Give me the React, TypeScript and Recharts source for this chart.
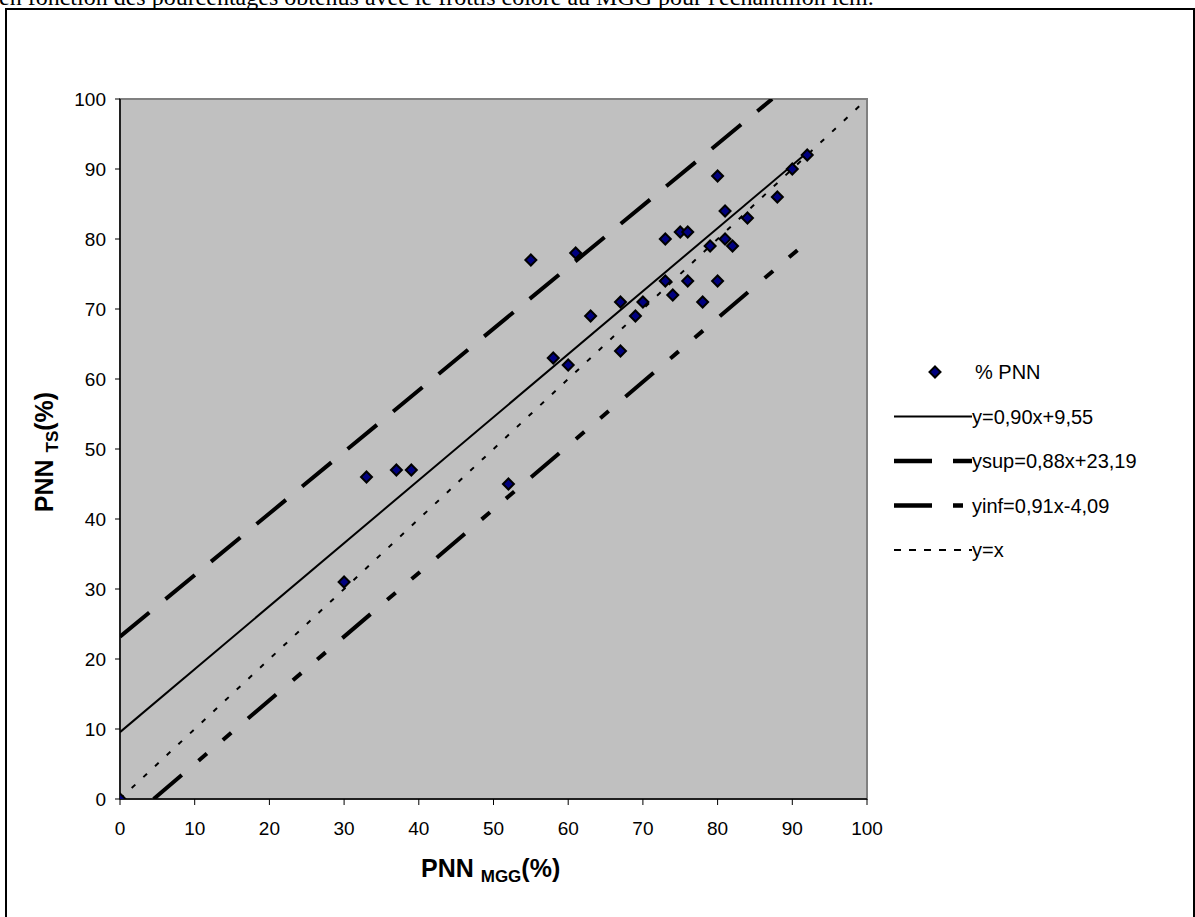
import {
  ComposedChart,
  Scatter,
  Line,
  XAxis,
  YAxis,
  ReferenceArea,
} from "recharts";

// measured points: PNN MGG (%) vs PNN TS (%)
const pnnMgg = [0, 30, 33, 37, 39, 52, 55, 58, 60, 61, 63, 67, 67, 69, 70, 73, 73, 74, 75, 76, 76, 78, 79, 80, 80, 81, 81, 82, 84, 88, 90, 92];
const pnnTs = [0, 31, 46, 47, 47, 45, 77, 63, 62, 78, 69, 71, 64, 69, 71, 80, 74, 72, 81, 81, 74, 71, 79, 89, 74, 84, 80, 79, 83, 86, 90, 92];

// line end points
const regLine = [
  { x: 0, y: 9.55 },
  { x: 92, y: 92.35 },
];
const supLine = [
  { x: 0, y: 23.19 },
  { x: 87.3, y: 100 },
];
const infLine = [
  { x: 4.5, y: 0 },
  { x: 92, y: 79.6 },
];
const idLine = [
  { x: 0, y: 0 },
  { x: 100, y: 100 },
];

const ticks = [0, 10, 20, 30, 40, 50, 60, 70, 80, 90, 100];

const FONT = '"Liberation Sans", Arial, sans-serif';

const points = pnnMgg.map((x, i) => ({ x, y: pnnTs[i] }));

const Diamond = (props: any) => {
  const { cx, cy } = props;
  if (cx == null || cy == null) return null;
  const r = 5.5;
  return (
    <polygon
      points={`${cx},${cy - r} ${cx + r},${cy} ${cx},${cy + r} ${cx - r},${cy}`}
      fill="#000080"
      stroke="#000"
      strokeWidth={2}
    />
  );
};

const legendRows = [
  { label: "% PNN", kind: "marker" },
  { label: "y=0,90x+9,55", kind: "line", width: 2, dash: undefined },
  { label: "ysup=0,88x+23,19", kind: "line", width: 4.5, dash: "38 21" },
  { label: "yinf=0,91x-4,09", kind: "line", width: 4.5, dash: "38 21 10 40" },
  { label: "y=x", kind: "line", width: 2, dash: "7 8" },
];

function LegendBox() {
  return (
    <svg width={300} height={230} style={{ fontFamily: FONT, display: "block" }}>
      {legendRows.map((r, i) => {
        const y = 18 + i * 44.5;
        return (
          <g key={r.label}>
            {r.kind === "marker" ? (
              <Diamond cx={45} cy={y} />
            ) : (
              <line x1={4} x2={82} y1={y} y2={y} stroke="#000" strokeWidth={r.width} strokeDasharray={r.dash} />
            )}
            <text x={r.kind === "marker" ? 85 : 82} y={y + 7} fontSize={20} fill="#000">
              {r.label}
            </text>
          </g>
        );
      })}
    </svg>
  );
}

export default function App() {
  return (
    <div style={{ position: "absolute", left: 0, top: 0, width: 1195, height: 917, overflow: "hidden", background: "#fff" }}>
      <div
        style={{
          position: "absolute",
          left: -1,
          top: -16,
          fontFamily: '"Liberation Serif", "Times New Roman", serif',
          fontSize: 24,
          whiteSpace: "nowrap",
        }}
      >
        en fonction des pourcentages obtenus avec le frottis coloré au MGG pour l'échantillon lcm.
      </div>
      <div
        style={{
          position: "absolute",
          left: 5,
          top: 8,
          width: 1186,
          height: 960,
          border: "2px solid #000",
        }}
      />
      <div style={{ position: "absolute", left: 0, top: 0 }}>
        <ComposedChart width={1195} height={917} margin={{ top: 99, right: 328, bottom: 88, left: 60 }}>
          <ReferenceArea x1={0} x2={100} y1={0} y2={100} fill="#C0C0C0" fillOpacity={1} stroke="#808080" strokeWidth={2} />
          <XAxis
            type="number"
            dataKey="x"
            domain={[0, 100]}
            ticks={ticks}
            allowDataOverflow
            height={30}
            axisLine={{ stroke: "#000", strokeWidth: 1.5 }}
            tickLine={{ stroke: "#000" }}
            tickSize={6}
            tickMargin={17}
            tick={{ fill: "#000", fontSize: 19, fontFamily: FONT }}
          />
          <YAxis
            type="number"
            dataKey="y"
            domain={[0, 100]}
            ticks={ticks}
            allowDataOverflow
            width={60}
            axisLine={{ stroke: "#000", strokeWidth: 1.5 }}
            tickLine={{ stroke: "#000" }}
            tickSize={5}
            tickMargin={9}
            tick={{ fill: "#000", fontSize: 19, fontFamily: FONT }}
          />
          <Line data={idLine} dataKey="y" stroke="#000" strokeWidth={2} strokeDasharray="5 11" dot={false} isAnimationActive={false} />
          <Line data={infLine} dataKey="y" stroke="#000" strokeWidth={4} strokeDasharray="37 22 11 21 11 22" dot={false} isAnimationActive={false} />
          <Line data={supLine} dataKey="y" stroke="#000" strokeWidth={4} strokeDasharray="38 21" dot={false} isAnimationActive={false} />
          <Line data={regLine} dataKey="y" stroke="#000" strokeWidth={2} dot={false} isAnimationActive={false} />
          <Scatter data={points} dataKey="y" shape={<Diamond />} isAnimationActive={false} />
        </ComposedChart>
      </div>
      <div style={{ position: "absolute", left: 890, top: 354 }}>
        <LegendBox />
      </div>
      <div
        style={{
          position: "absolute",
          left: 421,
          top: 853,
          lineHeight: "30px",
          fontFamily: FONT,
          fontWeight: "bold",
          fontSize: 25,
          whiteSpace: "nowrap",
        }}
      >
        PNN <span style={{ fontSize: 17, position: "relative", top: 5 }}>MGG</span>(%)
      </div>
      <div
        style={{
          position: "absolute",
          left: 46,
          top: 452,
          lineHeight: "30px",
          transform: "translate(-50%, -50%) rotate(-90deg)",
          fontFamily: FONT,
          fontWeight: "bold",
          fontSize: 25,
          whiteSpace: "nowrap",
        }}
      >
        PNN <span style={{ fontSize: 17, position: "relative", top: 5 }}>TS</span>(%)
      </div>
    </div>
  );
}
